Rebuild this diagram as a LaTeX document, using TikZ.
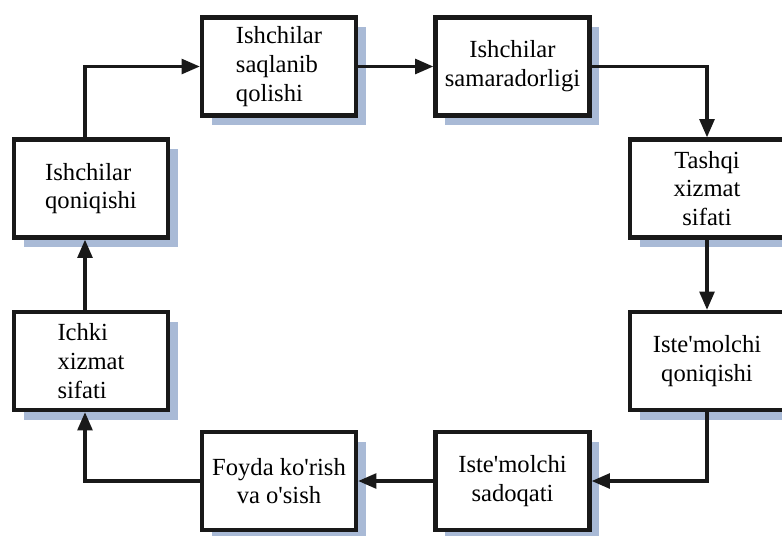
\documentclass[tikz,border=0pt]{standalone}
\usepackage{fontspec}
\newfontfamily\stagefont{Liberation Serif}
\usetikzlibrary{arrows.meta,shadows}
\definecolor{shadowblue}{RGB}{169,186,214}

\begin{document}
\begin{tikzpicture}[x=0.025cm,y=-0.025cm,
   every node/.style={font=\stagefont\fontsize{17.5}{20.5}\selectfont},
   stage/.style={draw=black!90,line width=3pt,fill=white,
      minimum width=3.85cm,minimum height=2.45cm,align=center,inner sep=2pt,
      drop shadow={shadow xshift=0.24cm,shadow yshift=-0.24cm,fill=shadowblue,opacity=1}},
   link/.style={line width=2.4pt,draw=black!90,-{Triangle[length=13pt,width=10.5pt]}}]

\useasboundingbox (0,0) rectangle (782,535);

\node[stage,align=left] (keep) at (279,66.5) {Ishchilar\\saqlanib\\qolishi};
\node[stage] (prod) at (512.5,66.5) {Ishchilar\\samaradorligi};
\node[stage] (ext) at (707,188.5) {Tashqi\\xizmat\\sifati};
\node[stage] (csat) at (707,361) {Iste'molchi\\qoniqishi};
\node[stage] (loyal) at (512.5,481) {Iste'molchi\\sadoqati};
\node[stage] (profit) at (279,481) {Foyda ko'rish\\va o'sish};
\node[stage,align=left] (int) at (91,361) {Ichki\\xizmat\\sifati};
\node[stage,align=left] (esat) at (91,188.5) {Ishchilar\\qoniqishi};

\draw[link] ([xshift=-0.15cm]esat.north) |- (keep.west);
\draw[link] (keep.east) -- (prod.west);
\draw[link] (prod.east) -| (ext.north);
\draw[link] (ext.south) -- (csat.north);
\draw[link] (csat.south) |- (loyal.east);
\draw[link] (loyal.west) -- (profit.east);
\draw[link] (profit.west) -| ([xshift=-0.15cm]int.south);
\draw[link] ([xshift=-0.15cm]int.north) -- ([xshift=-0.15cm]esat.south);

\end{tikzpicture}
\end{document}
